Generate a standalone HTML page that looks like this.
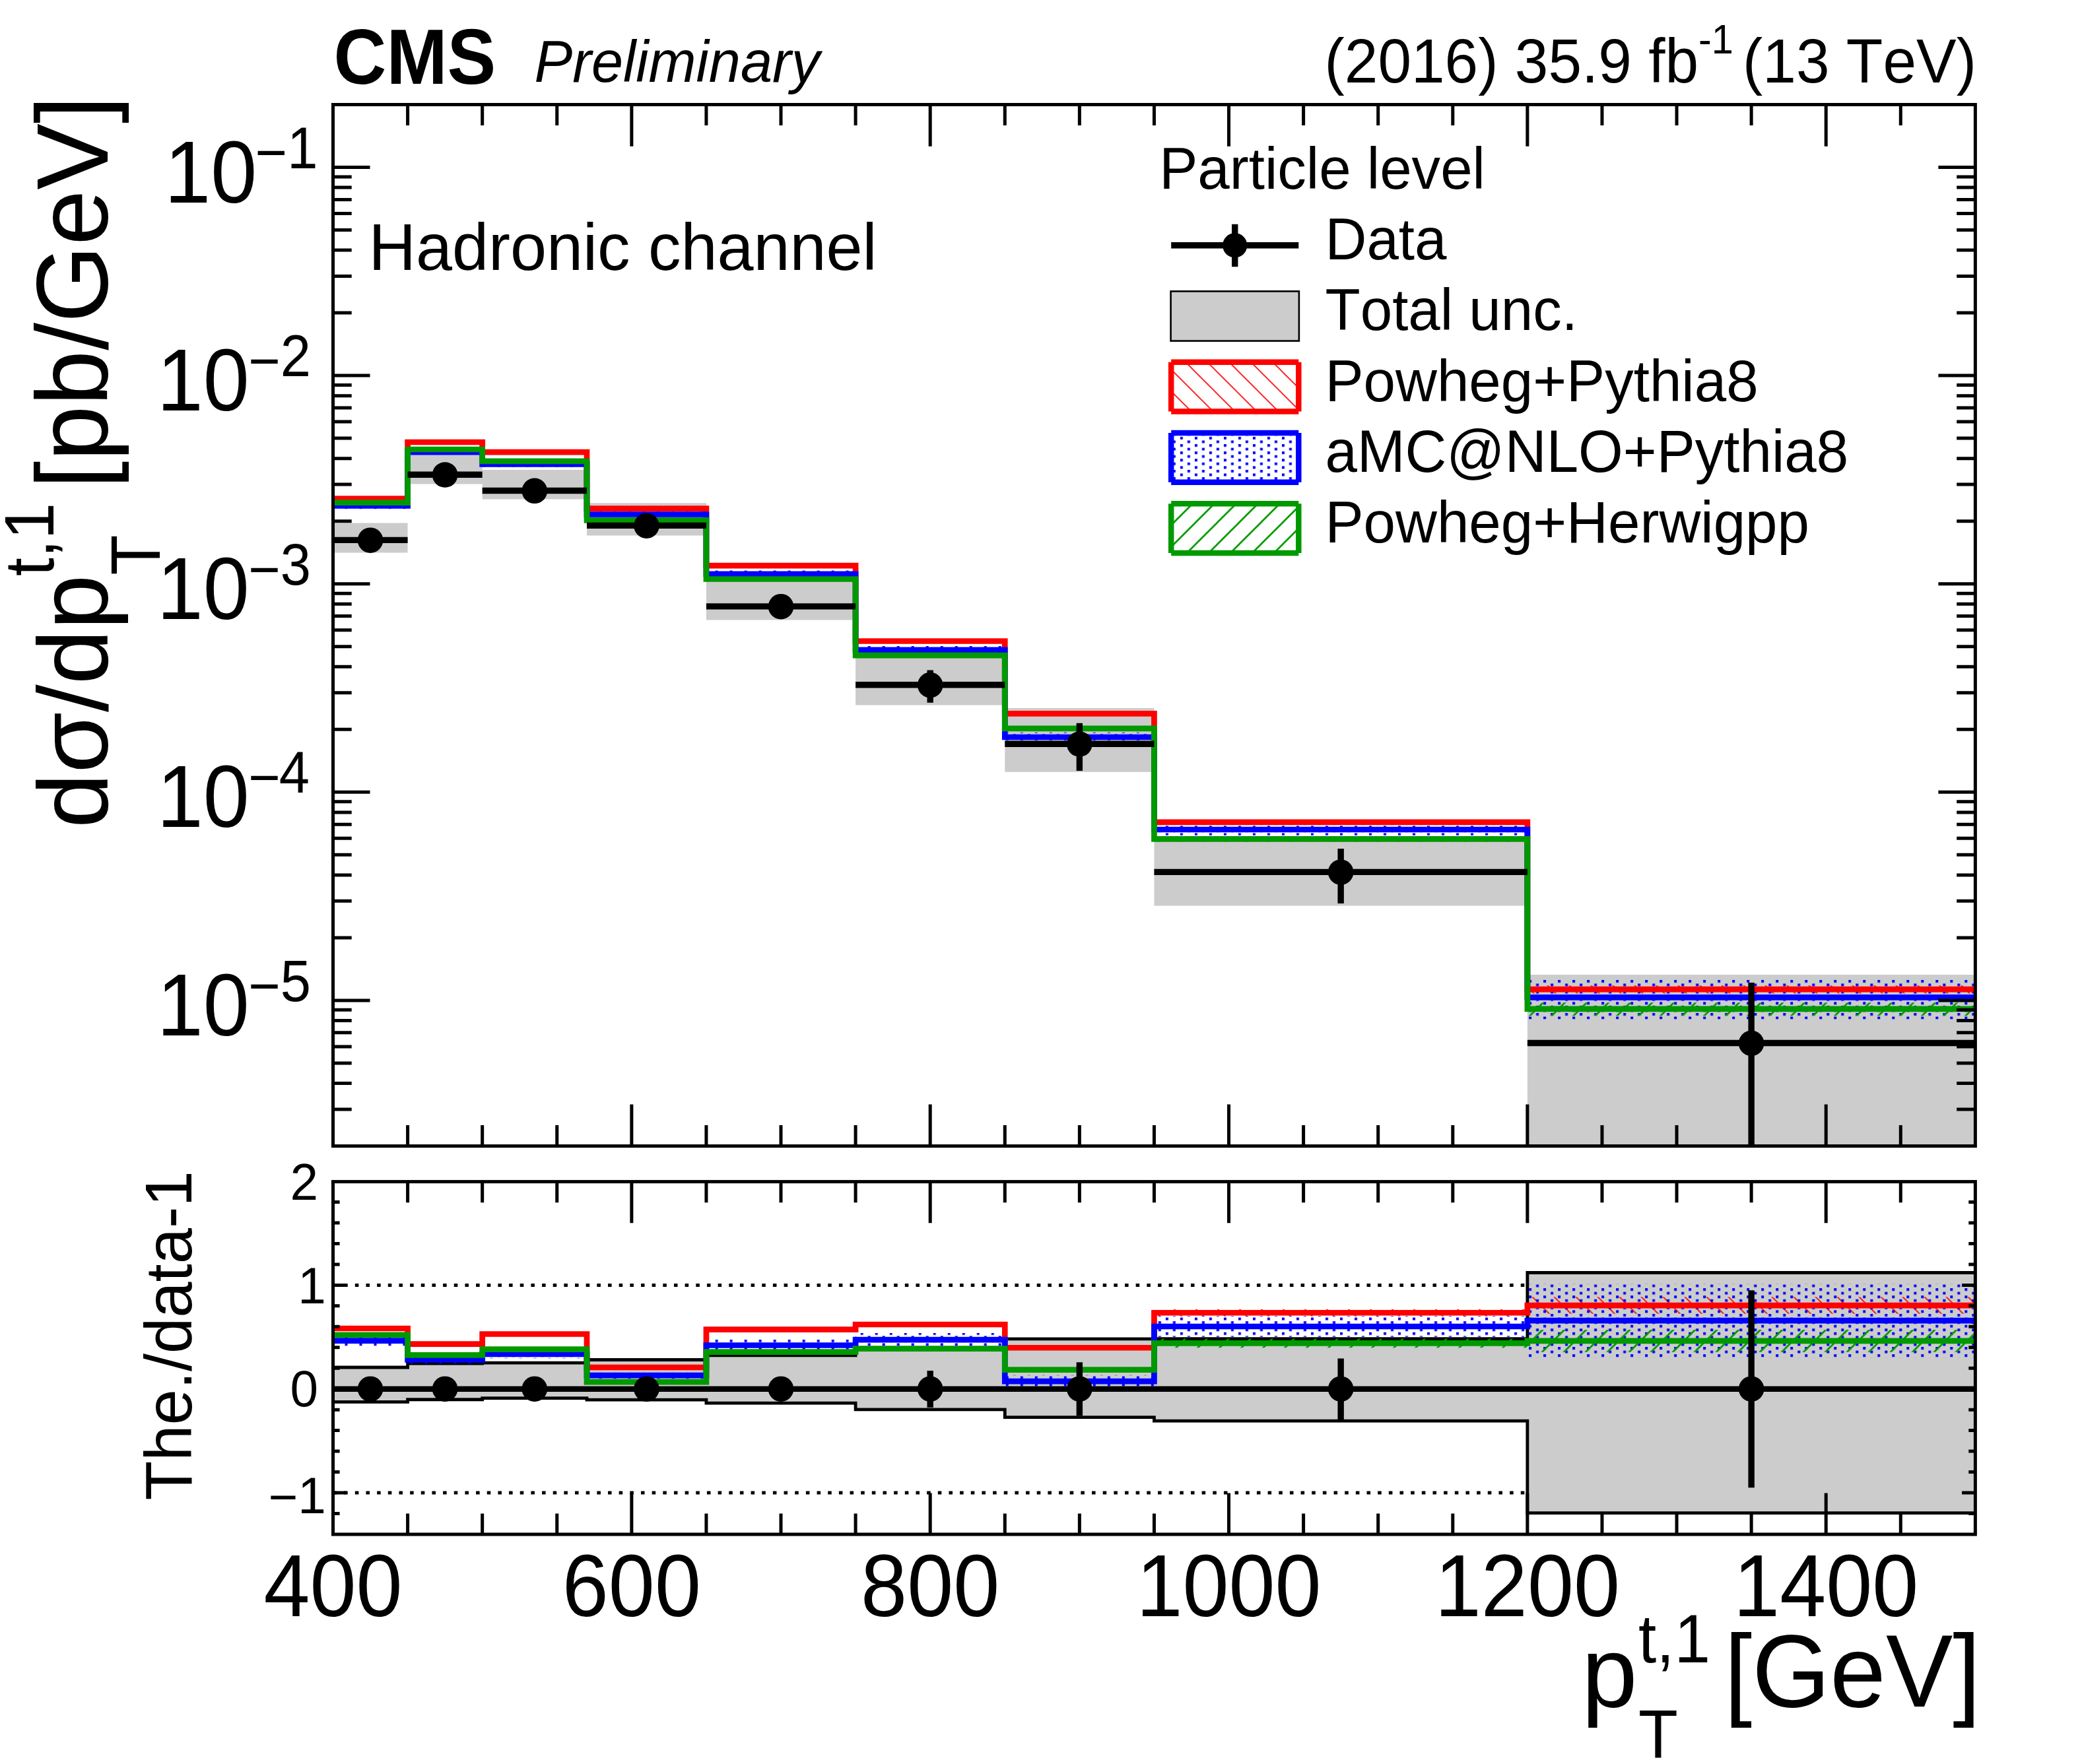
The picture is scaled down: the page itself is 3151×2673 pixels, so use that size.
<!DOCTYPE html>
<html lang="en"><head><meta charset="utf-8"><title>CMS Preliminary - Hadronic channel</title>
<style>html,body{margin:0;padding:0;background:#fff}body{width:3151px;height:2673px;overflow:hidden}svg{display:block}text{font-kerning:none;font-variant-ligatures:none}</style>
</head><body>
<svg width="3151" height="2673" viewBox="0 0 3151 2673" font-family="'Liberation Sans', sans-serif" fill="#000">
<defs>
<pattern id="hr" patternUnits="userSpaceOnUse" x="26.3" y="0" width="33" height="33"><path d="M-1 -1L34 34M-34 -1L1 34M32 -1L67 34" stroke="#ff0000" stroke-width="1.6" fill="none"/></pattern>
<pattern id="hg" patternUnits="userSpaceOnUse" x="28.9" y="0" width="33" height="33"><path d="M-1 1L34 -34M-1 34L34 -1M-1 67L34 32" stroke="#009900" stroke-width="2.7" fill="none"/></pattern>
<pattern id="hb" patternUnits="userSpaceOnUse" x="5.25" y="5.7" width="22.008" height="11.122"><rect x="0" y="0" width="4" height="4" fill="#0000ff"/><rect x="11.004" y="5.561" width="4" height="4" fill="#0000ff"/></pattern>
<clipPath id="cm"><rect x="504.5" y="158.5" width="2487.9" height="1578.1"/></clipPath>
<clipPath id="cr"><rect x="504.5" y="1790.6" width="2487.9" height="534.4"/></clipPath>
</defs>
<rect width="3151" height="2673" fill="#fff"/>
<g clip-path="url(#cm)">
<path d="M504.5 792.6H617.59V837.5H504.5ZM617.59 689.16H730.67V733.4H617.59ZM730.67 712H888.99V756.5H730.67ZM888.99 762.3H1069.93V811.4H888.99ZM1069.93 880.43H1296.1V939.5H1069.93ZM1296.1 994.15H1522.28V1068.6H1296.1ZM1522.28 1072.9H1748.45V1169.8H1522.28ZM1748.45 1267.3H2313.88V1372.4H1748.45ZM2313.88 1477H2992.4V1786.6H2313.88Z" fill="#cccccc"/>
<path d="M504.5 754.41H617.59V756.6H504.5ZM617.59 668.91H730.67V671.1H617.59ZM730.67 684.11H888.99V686.3H730.67ZM888.99 769.61H1069.93V771.8H888.99ZM1069.93 856.11H1296.1V858.3H1069.93ZM1296.1 970.14H1522.28V972.88H1296.1ZM1522.28 1079.77H1748.45V1083.05H1522.28ZM1748.45 1243.09H2313.88V1248.57H1748.45ZM2313.88 1493.17H2992.4V1505.51H2313.88Z" fill="url(#hr)"/>
<path d="M504.5 761.68H617.59V771.28H504.5ZM617.59 681.05H730.67V689.27H617.59ZM730.67 699.25H888.99V707.47H730.67ZM888.99 775.45H1069.93V783.67H888.99ZM1069.93 864.52H1296.1V875.5H1069.93ZM1296.1 979H1522.28V991.07H1296.1ZM1522.28 1109.66H1748.45V1124.75H1522.28ZM1748.45 1248.69H2313.88V1265.85H1748.45ZM2313.88 1484.61H2992.4V1544.48H2313.88Z" fill="url(#hb)"/>
<path d="M504.5 760.61H617.59V762.8H504.5ZM617.59 679.91H730.67V682.1H617.59ZM730.67 697.71H888.99V699.9H730.67ZM888.99 787.21H1069.93V789.4H888.99ZM1069.93 876.41H1296.1V878.6H1069.93ZM1296.1 991.84H1522.28V994.58H1296.1ZM1522.28 1102.17H1748.45V1105.45H1522.28ZM1748.45 1267.25H2313.88V1275.47H1748.45ZM2313.88 1519.14H2992.4V1539.19H2313.88Z" fill="url(#hg)"/>
<path d="M504.5 755.5H617.59V670H730.67V685.2H888.99V770.7H1069.93V857.2H1296.1V971.5H1522.28V1081.4H1748.45V1245.8H2313.88V1499.2H2992.4" fill="none" stroke="#ff0000" stroke-width="8.7" stroke-linejoin="miter"/>
<path d="M504.5 766.4H617.59V685.1H730.67V703.3H888.99V779.5H1069.93V869.9H1296.1V984.9H1522.28V1117H1748.45V1257H2313.88V1511.3H2992.4" fill="none" stroke="#0000ff" stroke-width="8.7" stroke-linejoin="miter"/>
<path d="M504.5 761.7H617.59V681H730.67V698.8H888.99V788.3H1069.93V877.5H1296.1V993.2H1522.28V1103.8H1748.45V1271.3H2313.88V1528.8H2992.4" fill="none" stroke="#009900" stroke-width="8.7" stroke-linejoin="miter"/>
<path d="M504.5 818.4H617.59M561.04 814.35V822.57M617.59 719.2H730.67M674.13 715.15V723.37M730.67 743.5H888.99M809.83 739.45V747.67M888.99 796.4H1069.93M979.46 791.02V802M1069.93 918.9H1296.1M1183.02 909.63V928.85M1296.1 1037.8H1522.28M1409.19 1015.58V1064.83M1522.28 1127.2H1748.45M1635.36 1095.85V1167.92M1748.45 1321.4H2313.88M2031.17 1286.07V1369.12M2313.88 1580.5H2992.4M2653.14 1488.97V1991.11" fill="none" stroke="#000" stroke-width="9.4"/>
<circle cx="561.04" cy="818.7" r="19.3"/>
<circle cx="674.13" cy="719.5" r="19.3"/>
<circle cx="809.83" cy="743.8" r="19.3"/>
<circle cx="979.46" cy="796.7" r="19.3"/>
<circle cx="1183.02" cy="919.2" r="19.3"/>
<circle cx="1409.19" cy="1038.1" r="19.3"/>
<circle cx="1635.36" cy="1127.5" r="19.3"/>
<circle cx="2031.17" cy="1321.7" r="19.3"/>
<circle cx="2653.14" cy="1580.8" r="19.3"/>
</g>
<path d="M617.59 1736.6v-31.6M617.59 158.5v31.6M730.67 1736.6v-31.6M730.67 158.5v31.6M843.76 1736.6v-31.6M843.76 158.5v31.6M956.85 1736.6v-63.2M956.85 158.5v63.2M1069.93 1736.6v-31.6M1069.93 158.5v31.6M1183.02 1736.6v-31.6M1183.02 158.5v31.6M1296.1 1736.6v-31.6M1296.1 158.5v31.6M1409.19 1736.6v-63.2M1409.19 158.5v63.2M1522.28 1736.6v-31.6M1522.28 158.5v31.6M1635.36 1736.6v-31.6M1635.36 158.5v31.6M1748.45 1736.6v-31.6M1748.45 158.5v31.6M1861.54 1736.6v-63.2M1861.54 158.5v63.2M1974.62 1736.6v-31.6M1974.62 158.5v31.6M2087.71 1736.6v-31.6M2087.71 158.5v31.6M2200.8 1736.6v-31.6M2200.8 158.5v31.6M2313.88 1736.6v-63.2M2313.88 158.5v63.2M2426.97 1736.6v-31.6M2426.97 158.5v31.6M2540.05 1736.6v-31.6M2540.05 158.5v31.6M2653.14 1736.6v-31.6M2653.14 158.5v31.6M2766.23 1736.6v-63.2M2766.23 158.5v63.2M2879.31 1736.6v-31.6M2879.31 158.5v31.6M504.5 1680.92h28.2M2992.4 1680.92h-28.2M504.5 1641.49h28.2M2992.4 1641.49h-28.2M504.5 1610.91h28.2M2992.4 1610.91h-28.2M504.5 1585.92h28.2M2992.4 1585.92h-28.2M504.5 1564.79h28.2M2992.4 1564.79h-28.2M504.5 1546.48h28.2M2992.4 1546.48h-28.2M504.5 1530.34h28.2M2992.4 1530.34h-28.2M504.5 1515.9h56M2992.4 1515.9h-56M504.5 1420.89h28.2M2992.4 1420.89h-28.2M504.5 1365.32h28.2M2992.4 1365.32h-28.2M504.5 1325.89h28.2M2992.4 1325.89h-28.2M504.5 1295.31h28.2M2992.4 1295.31h-28.2M504.5 1270.32h28.2M2992.4 1270.32h-28.2M504.5 1249.19h28.2M2992.4 1249.19h-28.2M504.5 1230.88h28.2M2992.4 1230.88h-28.2M504.5 1214.74h28.2M2992.4 1214.74h-28.2M504.5 1200.3h56M2992.4 1200.3h-56M504.5 1105.29h28.2M2992.4 1105.29h-28.2M504.5 1049.72h28.2M2992.4 1049.72h-28.2M504.5 1010.29h28.2M2992.4 1010.29h-28.2M504.5 979.71h28.2M2992.4 979.71h-28.2M504.5 954.72h28.2M2992.4 954.72h-28.2M504.5 933.59h28.2M2992.4 933.59h-28.2M504.5 915.28h28.2M2992.4 915.28h-28.2M504.5 899.14h28.2M2992.4 899.14h-28.2M504.5 884.7h56M2992.4 884.7h-56M504.5 789.69h28.2M2992.4 789.69h-28.2M504.5 734.12h28.2M2992.4 734.12h-28.2M504.5 694.69h28.2M2992.4 694.69h-28.2M504.5 664.11h28.2M2992.4 664.11h-28.2M504.5 639.12h28.2M2992.4 639.12h-28.2M504.5 617.99h28.2M2992.4 617.99h-28.2M504.5 599.68h28.2M2992.4 599.68h-28.2M504.5 583.54h28.2M2992.4 583.54h-28.2M504.5 569.1h56M2992.4 569.1h-56M504.5 474.09h28.2M2992.4 474.09h-28.2M504.5 418.52h28.2M2992.4 418.52h-28.2M504.5 379.09h28.2M2992.4 379.09h-28.2M504.5 348.51h28.2M2992.4 348.51h-28.2M504.5 323.52h28.2M2992.4 323.52h-28.2M504.5 302.39h28.2M2992.4 302.39h-28.2M504.5 284.08h28.2M2992.4 284.08h-28.2M504.5 267.94h28.2M2992.4 267.94h-28.2M504.5 253.5h56M2992.4 253.5h-56" fill="none" stroke="#000" stroke-width="5.0"/>
<rect x="504.5" y="158.5" width="2487.9" height="1578.1" fill="none" stroke="#000" stroke-width="5.0"/>
<g clip-path="url(#cr)">
<path d="M504.5 1947.4H2992.4" stroke="#000" stroke-width="5" stroke-dasharray="5.55 11.11" fill="none"/>
<path d="M504.5 2262H2992.4" stroke="#000" stroke-width="5" stroke-dasharray="5.55 11.11" fill="none"/>
<path d="M504.5 2071.98H617.59V2124.36H504.5ZM617.59 2066.16H730.67V2120.74H617.59ZM730.67 2065.22H888.99V2118.7H730.67ZM888.99 2060.5H1069.93V2121.06H888.99ZM1069.93 2053.73H1296.1V2126.09H1069.93ZM1296.1 2045.71H1522.28V2135.85H1296.1ZM1522.28 2028.88H1748.45V2147.64H1522.28ZM1748.45 2028.57H2313.88V2153.15H1748.45ZM2313.88 1928.52H2992.4V2292.67H2313.88Z" fill="#cccccc"/>
<path d="M504.5 2071.98H617.59V2066.16H730.67V2065.22H888.99V2060.5H1069.93V2053.73H1296.1V2045.71H1522.28V2028.88H1748.45V2028.57H2313.88V1928.52H2992.4" fill="none" stroke="#000" stroke-width="4.8" stroke-linejoin="miter"/>
<path d="M504.5 2124.36H617.59V2120.74H730.67V2118.7H888.99V2121.06H1069.93V2126.09H1296.1V2135.85H1522.28V2147.64H1748.45V2153.15H2313.88V2292.67H2992.4" fill="none" stroke="#000" stroke-width="4.8" stroke-linejoin="miter"/>
<path d="M504.5 2011H617.59V2014.99H504.5ZM617.59 2034.79H730.67V2038.39H617.59ZM730.67 2019.56H888.99V2023.41H730.67ZM888.99 2070.46H1069.93V2073.5H888.99ZM1069.93 2012.75H1296.1V2016.7H1069.93ZM1296.1 2004.47H1522.28V2009.57H1296.1ZM1522.28 2039.61H1748.45V2044.89H1522.28ZM1748.45 1983.79H2313.88V1994.7H1748.45ZM2313.88 1965.3H2992.4V1990.85H2313.88Z" fill="url(#hr)"/>
<path d="M504.5 2023.49H617.59V2039.62H504.5ZM617.59 2054.45H730.67V2066.54H617.59ZM730.67 2045.7H888.99V2058.3H730.67ZM888.99 2078.76H1069.93V2089.43H888.99ZM1069.93 2029.54H1296.1V2047.42H1069.93ZM1296.1 2019.94H1522.28V2040.34H1296.1ZM1522.28 2083.77H1748.45V2102.35H1522.28ZM1748.45 1994.26H2313.88V2025.76H1748.45ZM2313.88 1944.93H2992.4V2057.15H2313.88Z" fill="url(#hb)"/>
<path d="M504.5 2020.83H617.59V2024.66H504.5ZM617.59 2051.75H730.67V2055.09H617.59ZM730.67 2042.87H888.99V2046.35H730.67ZM888.99 2092.82H1069.93V2095.5H888.99ZM1069.93 2046.99H1296.1V2050.41H1069.93ZM1296.1 2041.48H1522.28V2045.85H1296.1ZM1522.28 2073.36H1748.45V2077.84H1522.28ZM1748.45 2028.53H2313.88V2042.13H1748.45ZM2313.88 2015.07H2992.4V2048.67H2313.88Z" fill="url(#hg)"/>
<path d="M504.5 2012.99H617.59V2036.59H730.67V2021.49H888.99V2071.98H1069.93V2014.72H1296.1V2007.02H1522.28V2042.25H1748.45V1989.24H2313.88V1978.07H2992.4" fill="none" stroke="#ff0000" stroke-width="8.7" stroke-linejoin="miter"/>
<path d="M504.5 2031.56H617.59V2060.5H730.67V2052H888.99V2084.09H1069.93V2038.48H1296.1V2030.14H1522.28V2093.06H1748.45V2010.01H2313.88V2001.04H2992.4" fill="none" stroke="#0000ff" stroke-width="8.7" stroke-linejoin="miter"/>
<path d="M504.5 2022.75H617.59V2053.42H730.67V2044.61H888.99V2094.16H1069.93V2048.7H1296.1V2043.67H1522.28V2075.6H1748.45V2035.33H2313.88V2031.87H2992.4" fill="none" stroke="#009900" stroke-width="8.7" stroke-linejoin="miter"/>
<path d="M504.5 2104.7H2992.4" fill="none" stroke="#000" stroke-width="8.6"/>
<path d="M561.04 2099.98V2109.42M674.13 2099.98V2109.42M809.83 2099.98V2109.42M979.46 2098.41V2110.99M1183.02 2093.69V2115.71M1409.19 2077.02V2132.86M1635.36 2064.27V2145.13M2031.17 2058.45V2150.95M2653.14 1955.26V2254.13" fill="none" stroke="#000" stroke-width="9.4"/>
<circle cx="561.04" cy="2104.7" r="19.3"/>
<circle cx="674.13" cy="2104.7" r="19.3"/>
<circle cx="809.83" cy="2104.7" r="19.3"/>
<circle cx="979.46" cy="2104.7" r="19.3"/>
<circle cx="1183.02" cy="2104.7" r="19.3"/>
<circle cx="1409.19" cy="2104.7" r="19.3"/>
<circle cx="1635.36" cy="2104.7" r="19.3"/>
<circle cx="2031.17" cy="2104.7" r="19.3"/>
<circle cx="2653.14" cy="2104.7" r="19.3"/>
</g>
<path d="M617.59 2325v-31.6M617.59 1790.6v31.6M730.67 2325v-31.6M730.67 1790.6v31.6M843.76 2325v-31.6M843.76 1790.6v31.6M956.85 2325v-62.6M956.85 1790.6v62.6M1069.93 2325v-31.6M1069.93 1790.6v31.6M1183.02 2325v-31.6M1183.02 1790.6v31.6M1296.1 2325v-31.6M1296.1 1790.6v31.6M1409.19 2325v-62.6M1409.19 1790.6v62.6M1522.28 2325v-31.6M1522.28 1790.6v31.6M1635.36 2325v-31.6M1635.36 1790.6v31.6M1748.45 2325v-31.6M1748.45 1790.6v31.6M1861.54 2325v-62.6M1861.54 1790.6v62.6M1974.62 2325v-31.6M1974.62 1790.6v31.6M2087.71 2325v-31.6M2087.71 1790.6v31.6M2200.8 2325v-31.6M2200.8 1790.6v31.6M2313.88 2325v-62.6M2313.88 1790.6v62.6M2426.97 2325v-31.6M2426.97 1790.6v31.6M2540.05 2325v-31.6M2540.05 1790.6v31.6M2653.14 2325v-31.6M2653.14 1790.6v31.6M2766.23 2325v-62.6M2766.23 1790.6v62.6M2879.31 2325v-31.6M2879.31 1790.6v31.6M504.5 2293.46h10.1M2992.4 2293.46h-10.1M504.5 2262h20.3M2992.4 2262h-20.3M504.5 2230.54h10.1M2992.4 2230.54h-10.1M504.5 2199.08h10.1M2992.4 2199.08h-10.1M504.5 2167.62h10.1M2992.4 2167.62h-10.1M504.5 2136.16h10.1M2992.4 2136.16h-10.1M504.5 2104.7h20.3M2992.4 2104.7h-20.3M504.5 2073.24h10.1M2992.4 2073.24h-10.1M504.5 2041.78h10.1M2992.4 2041.78h-10.1M504.5 2010.32h10.1M2992.4 2010.32h-10.1M504.5 1978.86h10.1M2992.4 1978.86h-10.1M504.5 1947.4h20.3M2992.4 1947.4h-20.3M504.5 1915.94h10.1M2992.4 1915.94h-10.1M504.5 1884.48h10.1M2992.4 1884.48h-10.1M504.5 1853.02h10.1M2992.4 1853.02h-10.1M504.5 1821.56h10.1M2992.4 1821.56h-10.1" fill="none" stroke="#000" stroke-width="5.0"/>
<rect x="504.5" y="1790.6" width="2487.9" height="534.4" fill="none" stroke="#000" stroke-width="5.0"/>
<text id="t_cms" transform="translate(505.5 126.5) scale(1.0000 1.0650)" font-size="110.65" text-anchor="start" font-weight="bold">CMS</text>
<text id="t_prel" transform="translate(809.5 123.8) scale(1.0000 1.0200)" font-size="86.5" text-anchor="start" font-style="italic">Preliminary</text>
<text id="t_lumiA" transform="translate(2006.5 125.3) scale(1.0000 1.0450)" font-size="91" text-anchor="start">(2016) 35.9 fb</text>
<text id="t_lumiB" transform="translate(2573 81) scale(1.0000 1.0600)" font-size="59.5" text-anchor="start">-1</text>
<text id="t_lumiC" transform="translate(2994 125.3) scale(1.0000 1.0450)" font-size="91" text-anchor="end">(13 TeV)</text>
<text id="t_had" transform="translate(558.5 408.5) scale(1.0000 1.0200)" font-size="98.96" text-anchor="start">Hadronic channel</text>
<text id="t_leg0" transform="translate(1756.2 285.9) scale(1.0000 1.0200)" font-size="87.1" text-anchor="start">Particle level</text>
<text id="t_leg1" transform="translate(2007.5 393.1) scale(1.0000 1.0200)" font-size="87.1" text-anchor="start">Data</text>
<text id="t_leg2" transform="translate(2007.5 500.3) scale(1.0000 1.0200)" font-size="87.1" text-anchor="start">Total unc.</text>
<text id="t_leg3" transform="translate(2007.5 607.5) scale(1.0000 1.0200)" font-size="87.1" text-anchor="start">Powheg+Pythia8</text>
<text id="t_leg4" transform="translate(2007.5 714.7) scale(1.0000 1.0350)" font-size="87.1" text-anchor="start">aMC@NLO+Pythia8</text>
<text id="t_leg5" transform="translate(2007.5 821.9) scale(1.0000 1.0200)" font-size="87.1" text-anchor="start">Powheg+Herwigpp</text>
<path d="M1774.2 371.8H1967.3M1870.75 339.8V404.3" stroke="#000" stroke-width="9.4" fill="none"/>
<circle cx="1870.75" cy="371.8" r="18.6"/>
<rect x="1773.6" y="441.4" width="194.3" height="75.2" fill="#cccccc" stroke="#000" stroke-width="2.6"/>
<rect x="1774.2" y="548.8" width="193.1" height="74.8" fill="url(#hr)"/>
<path d="M1774.2 548.8H1967.3M1774.2 623.6H1967.3M1774.2 548.8V623.6M1967.3 548.8V623.6" stroke="#ff0000" stroke-width="8.5" fill="none"/>
<rect x="1774.2" y="656" width="193.1" height="74.8" fill="url(#hb)"/>
<path d="M1774.2 656H1967.3M1774.2 730.8H1967.3M1774.2 656V730.8M1967.3 656V730.8" stroke="#0000ff" stroke-width="8.5" fill="none"/>
<rect x="1774.2" y="763.2" width="193.1" height="74.8" fill="url(#hg)"/>
<path d="M1774.2 763.2H1967.3M1774.2 838H1967.3M1774.2 763.2V838M1967.3 763.2V838" stroke="#009900" stroke-width="8.5" fill="none"/>
<text id="t_y1" transform="translate(249.2 306.5) scale(1 1.0600)" font-size="125.8">10<tspan font-size="83.1" dx="-2.6" dy="-42.55">−</tspan><tspan font-size="83.1" dx="0.2" dy="-6.42">1</tspan></text>
<text id="t_y2" transform="translate(237.7 622.1) scale(1 1.0600)" font-size="125.8">10<tspan font-size="83.1" dx="-1.3" dy="-42.55">−</tspan><tspan font-size="83.1" dx="0" dy="-6.42">2</tspan></text>
<text id="t_y3" transform="translate(237.7 937.7) scale(1 1.0600)" font-size="125.8">10<tspan font-size="83.1" dx="-1.3" dy="-42.55">−</tspan><tspan font-size="83.1" dx="0" dy="-6.42">3</tspan></text>
<text id="t_y4" transform="translate(237.7 1253.3) scale(1 1.0600)" font-size="125.8">10<tspan font-size="83.1" dx="-1.3" dy="-42.55">−</tspan><tspan font-size="83.1" dx="-2" dy="-6.42">4</tspan></text>
<text id="t_y5" transform="translate(237.7 1568.9) scale(1 1.0600)" font-size="125.8">10<tspan font-size="83.1" dx="-1.3" dy="-42.55">−</tspan><tspan font-size="83.1" dx="0" dy="-6.42">5</tspan></text>
<text id="t_yt" transform="translate(163.3 1255) rotate(-90)" font-size="150" text-anchor="start">dσ/dp</text>
<text id="t_yt_sup" transform="translate(80.8 873) rotate(-90) scale(1.0000 1.0600)" font-size="100" text-anchor="start">t,1</text>
<text id="t_yt_sub" transform="translate(241.9 871.5) rotate(-90) scale(1.0000 1.0600)" font-size="100" text-anchor="start">T</text>
<text id="t_yt2" transform="translate(163.3 145.3) rotate(-90) scale(1.0000 1.0150)" font-size="150.8" text-anchor="end">[pb/GeV]</text>
<text id="t_x400" transform="translate(504.5 2448.6) scale(1.0000 1.0650)" font-size="126" text-anchor="middle">400</text>
<text id="t_x600" transform="translate(956.85 2448.6) scale(1.0000 1.0650)" font-size="126" text-anchor="middle">600</text>
<text id="t_x800" transform="translate(1409.19 2448.6) scale(1.0000 1.0650)" font-size="126" text-anchor="middle">800</text>
<text id="t_x1000" transform="translate(1861.54 2448.6) scale(1.0000 1.0650)" font-size="126" text-anchor="middle">1000</text>
<text id="t_x1200" transform="translate(2313.88 2448.6) scale(1.0000 1.0650)" font-size="126" text-anchor="middle">1200</text>
<text id="t_x1400" transform="translate(2766.23 2448.6) scale(1.0000 1.0650)" font-size="126" text-anchor="middle">1400</text>
<text id="t_xt" transform="translate(2396 2586.4)" font-size="152" text-anchor="start">p</text>
<text id="t_xt_sup" transform="translate(2482 2518.9) scale(1.0000 1.0600)" font-size="98" text-anchor="start">t,1</text>
<text id="t_xt_sub" transform="translate(2482 2664.1) scale(1.0000 1.0600)" font-size="98" text-anchor="start">T</text>
<text id="t_xt2" transform="translate(3000.5 2586.4) scale(1.0000 1.0200)" font-size="152" text-anchor="end">[GeV]</text>
<text id="t_r3" transform="translate(482 1817.8) scale(1.0000 1.0200)" font-size="76.5" text-anchor="end">2</text>
<text id="t_r2" transform="translate(493.7 1975.4) scale(1.0000 1.0200)" font-size="76.5" text-anchor="end">1</text>
<text id="t_r1" transform="translate(482 2131) scale(1.0000 1.0200)" font-size="76.5" text-anchor="end">0</text>
<text id="t_r0" transform="translate(493.7 2292.8) scale(1 1.02)" font-size="76.5" text-anchor="end"><tspan dy="2.2">−</tspan><tspan dy="-2.2">1</tspan></text>
<text id="t_rt" transform="translate(290.2 2273.4) rotate(-90) scale(1.0000 1.0200)" font-size="97.6" text-anchor="start">The./data-1</text>
</svg>
</body></html>
